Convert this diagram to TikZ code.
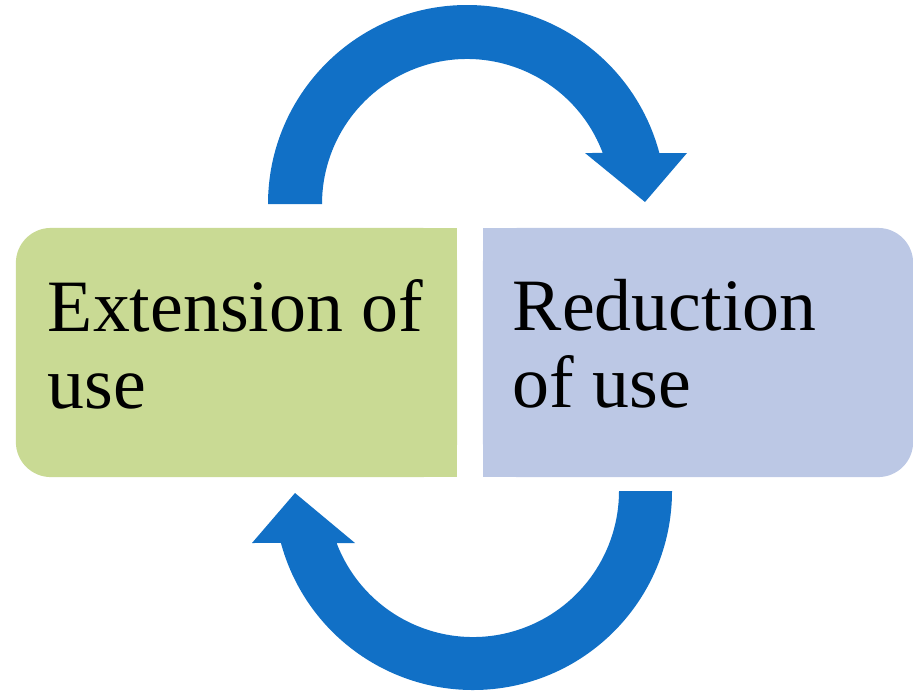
\documentclass[tikz,border=0pt]{standalone}
\usepackage{fontspec}
\setmainfont{Liberation Serif}
\usepackage{tikz}
\definecolor{extgreen}{RGB}{201,218,148}
\definecolor{redblue}{RGB}{188,200,229}
\definecolor{arrowblue}{RGB}{17,112,198}
\tikzset{
  my box/.style={
    rectangle,
    minimum height=2.49cm,
    inner sep=0mm,
    rounded corners=3.5mm
  },
  ext box/.style={
    my box,
    fill=extgreen,
    minimum width=4.41cm
  },
  red box/.style={
    my box,
    fill=redblue,
    minimum width=4.30cm
  },
  box text/.style={
    align=left,
    inner sep=0mm,
    font=\fontsize{21}{21.8}\selectfont,
    anchor=north west
  },
  cycle arrow/.style={
    fill=arrowblue
  }
}

\begin{document}
\begin{tikzpicture}[x=0.01cm,y=0.01cm]
\useasboundingbox (0,0) rectangle (913,693);
% square corners where the two boxes meet
\fill[extgreen] (300,216) rectangle (457,465);
\fill[redblue]  (483,216) rectangle (640,465);
\node[ext box] (ext) at (236.5,340.5) {};
\node[red box] (red) at (698,340.5)   {};
\node[box text] (ext text) at ([xshift=0.32cm,yshift=-0.516cm]ext.north west) {Extension of\\use};
\node[box text] (red text) at ([xshift=0.30cm,yshift=-0.516cm]red.north west) {Reduction\\of use};
% centres of the two arcs
\coordinate (top c) at (467,489);
\coordinate (bot c) at (473,202);
\fill[cycle arrow] ([shift={(180:199)}]top c) arc[start angle=180,end angle=14.8,radius=199]
  -- (687,540) -- (645,491) -- (585,540)
  -- ([shift={(20.6:145)}]top c) arc[start angle=20.6,end angle=180,radius=145] -- cycle;
\fill[cycle arrow] ([shift={(0:199)}]bot c) arc[start angle=0,end angle=-164.9,radius=199]
  -- (252,150) -- (295,200) -- (355,150)
  -- ([shift={(-159.1:146)}]bot c) arc[start angle=-159.1,end angle=0,radius=146] -- cycle;
\end{tikzpicture}
\end{document}
